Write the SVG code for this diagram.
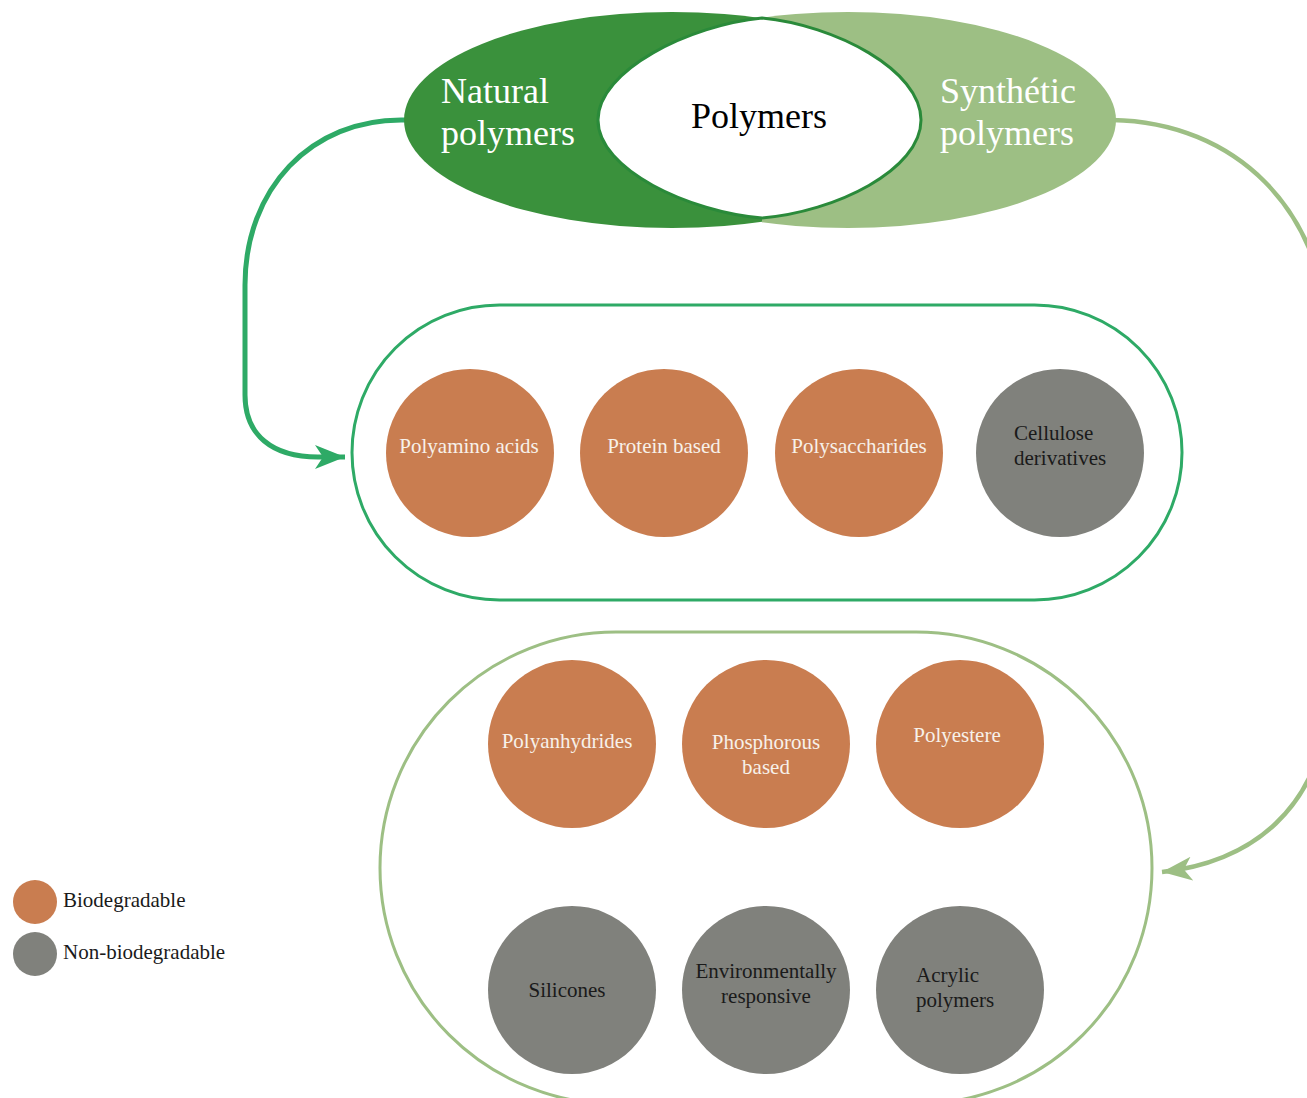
<svg xmlns="http://www.w3.org/2000/svg" width="1307" height="1098" viewBox="0 0 1307 1098">
<style>
.bio{fill:#c97d50}
.non{fill:#80817c}
.tw{font-family:"Liberation Serif","Times New Roman",serif;font-size:21px;fill:#f7f1ea}
.tb{font-family:"Liberation Serif","Times New Roman",serif;font-size:21px;fill:#1a1a1a}
.big{font-family:"Liberation Serif","Times New Roman",serif;font-size:36px}
.mid{text-anchor:middle}
</style>
<defs>
<clipPath id="cl"><rect x="0" y="0" width="762" height="260"/></clipPath>
<clipPath id="cr"><rect x="762" y="0" width="600" height="260"/></clipPath>
<marker id="ahG" markerUnits="userSpaceOnUse" markerWidth="40" markerHeight="30" refX="30" refY="12" orient="auto">
<path d="M0,0 L30,12 L0,24 L8,12 Z" fill="#2eaa66"/>
</marker>
<marker id="ahL" markerUnits="userSpaceOnUse" markerWidth="40" markerHeight="30" refX="30" refY="12" orient="auto">
<path d="M0,0 L30,12 L0,24 L8,12 Z" fill="#9dbf84"/>
</marker>
</defs>

<g id="connectors" fill="none">
<path d="M405,120 C310,118 245,190 245,285 L245,395 C245,435 272,457 318,457 L345,457" stroke="#2eaa66" stroke-width="5" marker-end="url(#ahG)"/>
<path d="M1112,120 C1235,122 1325,210 1328,340 L1328,700 C1322,810 1250,862 1162,872" stroke="#9dbf84" stroke-width="4.5" marker-end="url(#ahL)"/>
</g>

<g id="natural">
<ellipse cx="672" cy="120" rx="268" ry="108" fill="#3a913c" clip-path="url(#cl)"/>
<text class="big" x="441" y="103" fill="#ffffff">Natural</text>
<text class="big" x="441" y="145" fill="#ffffff">polymers</text>
</g>
<g id="synthetic">
<ellipse cx="848" cy="120" rx="268" ry="108" fill="#9dbf84" clip-path="url(#cr)"/>
<text class="big" x="940" y="103" fill="#ffffff">Synthétic</text>
<text class="big" x="940" y="145" fill="#ffffff">polymers</text>
</g>
<g id="polymers">
<path d="M762,18 C690,25 598,70 598,120 C598,170 690,212 762,218 C835,212 921,170 921,120 C921,70 835,25 762,18 Z" fill="#ffffff" stroke="#2a8a3a" stroke-width="3"/>
<text class="big mid" x="759" y="128" fill="#000000">Polymers</text>
</g>

<g id="natural-group">
<rect x="352" y="305" width="830" height="295" rx="147.5" ry="147.5" fill="none" stroke="#2eaa66" stroke-width="3"/>
</g>
<g id="polyamino"><circle class="bio" cx="470" cy="453" r="84"/><text class="tw mid" x="469" y="453">Polyamino acids</text></g>
<g id="protein"><circle class="bio" cx="664" cy="453" r="84"/><text class="tw mid" x="664" y="453">Protein based</text></g>
<g id="polysaccharides"><circle class="bio" cx="859" cy="453" r="84"/><text class="tw mid" x="859" y="453">Polysaccharides</text></g>
<g id="cellulose"><circle class="non" cx="1060" cy="453" r="84"/><text class="tb" x="1014" y="440">Cellulose</text><text class="tb" x="1014" y="465">derivatives</text></g>

<g id="synthetic-group">
<rect x="380" y="632" width="772" height="472" rx="236" ry="236" fill="none" stroke="#9dbf84" stroke-width="3"/>
</g>
<g id="polyanhydrides"><circle class="bio" cx="572" cy="744" r="84"/><text class="tw mid" x="567" y="748">Polyanhydrides</text></g>
<g id="phosphorous"><circle class="bio" cx="766" cy="744" r="84"/><text class="tw mid" x="766" y="749">Phosphorous</text><text class="tw mid" x="766" y="774">based</text></g>
<g id="polyestere"><circle class="bio" cx="960" cy="744" r="84"/><text class="tw mid" x="957" y="742">Polyestere</text></g>
<g id="silicones"><circle class="non" cx="572" cy="990" r="84"/><text class="tb mid" x="567" y="997">Silicones</text></g>
<g id="environmental"><circle class="non" cx="766" cy="990" r="84"/><text class="tb mid" x="766" y="978">Environmentally</text><text class="tb mid" x="766" y="1003">responsive</text></g>
<g id="acrylic"><circle class="non" cx="960" cy="990" r="84"/><text class="tb" x="916" y="982">Acrylic</text><text class="tb" x="916" y="1007">polymers</text></g>

<g id="legend">
<circle class="bio" cx="35" cy="902" r="22"/>
<text class="tb" x="63" y="907">Biodegradable</text>
<circle class="non" cx="35" cy="954" r="22"/>
<text class="tb" x="63" y="959">Non-biodegradable</text>
</g>
</svg>
